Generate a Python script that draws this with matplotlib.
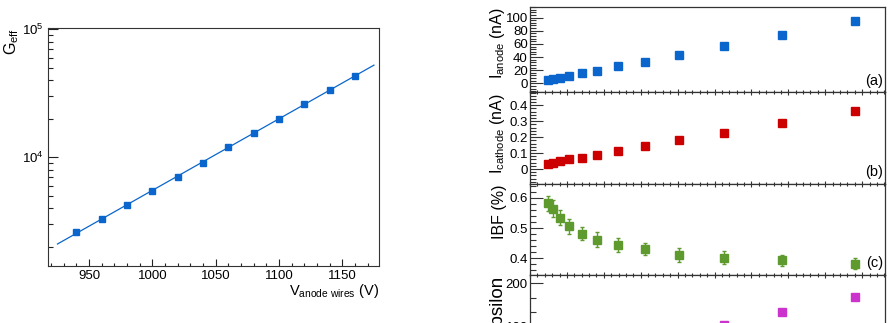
import numpy as np
import matplotlib
matplotlib.use("Agg")
import matplotlib.pyplot as plt
from matplotlib.ticker import MultipleLocator, LogLocator, NullFormatter, FixedLocator

plt.rcParams['font.family'] = ['Liberation Sans', 'DejaVu Sans']
plt.rcParams['mathtext.fontset'] = 'custom'
plt.rcParams['mathtext.rm'] = 'Liberation Sans'
plt.rcParams['mathtext.it'] = 'Liberation Sans:italic'
plt.rcParams['mathtext.bf'] = 'Liberation Sans:bold'

# ---- Left panel data ----
voltage = [940, 960, 980, 1000, 1020, 1040, 1060, 1080, 1100, 1120, 1140, 1160]
geff = [2595, 3296, 4240, 5483, 7015, 9073, 12036, 15395, 20025, 25950, 33570, 42970]
fit_range = [925, 1175]

# ---- Right panels data ----
gain_x = [2500, 3180, 4130, 5350, 6980, 9060, 11990, 15520, 20250, 26310, 34170, 44060]
i_anode = [5.0, 6.5, 8.5, 11.1, 15.2, 19.2, 25.9, 32.9, 43.1, 56.8, 73.5, 94.8]
i_cathode = [0.031, 0.040, 0.048, 0.061, 0.071, 0.090, 0.115, 0.144, 0.180, 0.228, 0.291, 0.362]
ibf = [0.582, 0.564, 0.535, 0.506, 0.482, 0.462, 0.444, 0.431, 0.411, 0.402, 0.393, 0.382]
ibf_err = [0.026, 0.028, 0.025, 0.025, 0.021, 0.024, 0.023, 0.020, 0.022, 0.021, 0.018, 0.019]
epsilon = [15, 19, 23, 28, 34, 42, 53, 66, 82, 104, 134, 168]

BLUE = '#0a66cc'
RED = '#cc0000'
GREEN = '#5e9a2e'
MAGENTA = '#cc33cc'

W, H = 893, 323
fig = plt.figure(figsize=(W / 100, H / 100), dpi=100)

def fr(left, top, right, bottom):
    return [left / W, 1 - bottom / H, (right - left) / W, (bottom - top) / H]

# ---------------- Left panel ----------------
ax = fig.add_axes(fr(48, 28, 379, 266))
ax.set_yscale('log')
ax.set_xlim(917.5, 1179)
ax.set_ylim(1414, 1.02e5)
ax.plot(voltage, geff, 's', color=BLUE, ms=4.6, mec=BLUE, zorder=3)
coef = np.polyfit(voltage, np.log10(geff), 1)
xf = np.array(fit_range, dtype=float)
ax.plot(xf, 10 ** np.polyval(coef, xf), '-', color=BLUE, lw=0.9, zorder=2)

ax.xaxis.set_major_locator(MultipleLocator(50))
ax.xaxis.set_minor_locator(MultipleLocator(10))
ax.yaxis.set_major_locator(FixedLocator([1e4, 1e5]))
ax.yaxis.set_minor_locator(LogLocator(base=10, subs=np.arange(2, 10)))
ax.yaxis.set_minor_formatter(NullFormatter())
ax.set_yticklabels([r'$\mathregular{10^{4}}$', r'$\mathregular{10^{5}}$'])
ax.tick_params(axis='both', which='both', direction='in', labelsize=9.5,
               top=False, right=False, width=0.8, color='#222222')
ax.tick_params(axis='y', which='major', length=7, pad=3)
ax.tick_params(axis='y', which='minor', length=3.6)
ax.tick_params(axis='x', which='major', length=4.8, pad=3)
ax.tick_params(axis='x', which='minor', length=2.4)
for s in ax.spines.values():
    s.set_linewidth(0.8)
    s.set_color('#333333')
ax.set_xlabel(r'$\mathregular{V_{anode\ wires}}$ (V)', fontsize=10.5, loc='right', labelpad=0)
ax.set_ylabel(r'$\mathregular{G_{eff}}$', fontsize=11.5, loc='top', labelpad=1)

# ---------------- Right panels ----------------
bounds = [6.7, 92, 184, 275, 366.5]
specs = [
    (i_anode, BLUE, r'$\mathregular{I_{anode}}$ (nA)', (-13.2, 116.6), 20, 4, '(a)', None, 11.5),
    (i_cathode, RED, r'$\mathregular{I_{cathode}}$ (nA)', (-0.094, 0.4835), 0.1, 0.02, '(b)', None, 11.5),
    (ibf, GREEN, 'IBF (%)', (0.3446, 0.6464), 0.1, 0.02, '(c)', ibf_err, 11.5),
    (epsilon, MAGENTA, 'Epsilon', (7.7, 219.3), 100, 100 / 3, None, None, 13.5),
]
for k, (vals, col, lab, ylim, maj, mnr, tag, err, lfs) in enumerate(specs):
    a = fig.add_axes(fr(530, bounds[k], 885, bounds[k + 1]))
    a.set_xlim(0, 48100)
    a.set_ylim(*ylim)
    if err is None:
        a.plot(gain_x, vals, 's', color=col, mec=col, ms=5.2, zorder=3)
    else:
        a.errorbar(gain_x, vals, yerr=err, fmt='s', color=col, mec=col, ms=5.2,
                   elinewidth=1.0, capsize=1.2, capthick=1.0, zorder=3)
    a.xaxis.set_major_locator(MultipleLocator(5000))
    a.xaxis.set_minor_locator(MultipleLocator(1000))
    a.yaxis.set_major_locator(MultipleLocator(maj))
    a.yaxis.set_minor_locator(MultipleLocator(mnr))
    a.tick_params(axis='x', which='both', labelbottom=False, direction='in',
                  top=(k > 0), bottom=True, width=0.8, color='#333333')
    a.tick_params(axis='x', which='major', length=2.2)
    a.tick_params(axis='x', which='minor', length=1.1)
    a.tick_params(axis='y', which='both', direction='in', right=False,
                  labelsize=9.5, width=0.8, color='#333333', pad=1.5)
    a.tick_params(axis='y', which='major', length=9)
    a.tick_params(axis='y', which='minor', length=4.5)
    for s in a.spines.values():
        s.set_linewidth(0.9)
        s.set_color('#333333')
    if k == 0:
        a.set_yticks([0, 20, 40, 60, 80, 100])
        a.set_yticklabels(['0', '20', '40', '60', '80', '100'])
    elif k == 1:
        a.set_yticks([0, 0.1, 0.2, 0.3, 0.4])
        a.set_yticklabels(['0', '0.1', '0.2', '0.3', '0.4'])
    elif k == 2:
        a.set_yticks([0.4, 0.5, 0.6])
        a.set_yticklabels(['0.4', '0.5', '0.6'])
    else:
        a.set_yticks([100, 200])
        a.set_yticklabels(['100', '200'])
    a.set_ylabel(lab, fontsize=lfs, loc='top')
    a.yaxis.set_label_coords(-0.066 if k < 3 else -0.07, 0.99 if k < 3 else 1.0)
    if tag:
        a.text(0.995, 0.05, tag, transform=a.transAxes, ha='right', va='bottom',
               fontsize=10.5)

fig.savefig('out.png', dpi=100)
